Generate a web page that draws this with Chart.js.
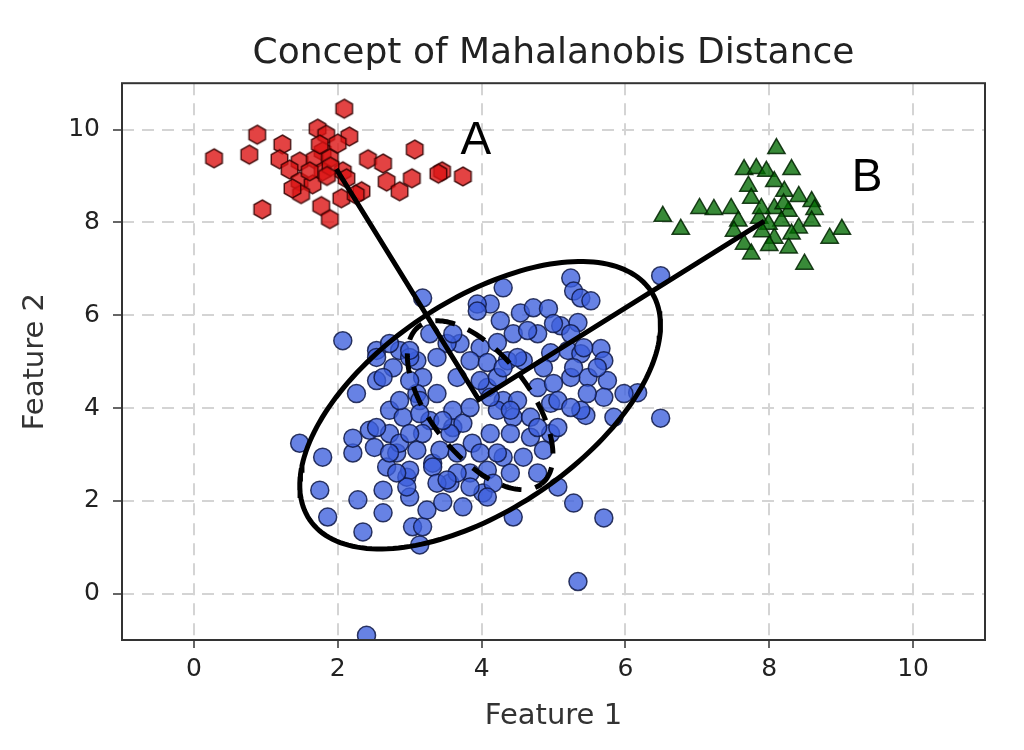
<!DOCTYPE html>
<html>
<head>
<meta charset="utf-8">
<script src="https://cdn.jsdelivr.net/npm/chart.js@4.4.1/dist/chart.umd.min.js"></script>
<style>
  html, body { margin: 0; padding: 0; background: #fff; }
  #wrap { position: relative; width: 1024px; height: 750px; }
</style>
</head>
<body>
<div id="wrap"><canvas id="mahal" width="1024" height="750"></canvas></div>
<script>
// Cluster around the mean (blue circles)
const bluePoints = [
  [6.49,6.85],[5.24,6.80],[5.28,6.52],[5.38,6.37],[5.52,6.31],[3.18,6.37],[2.07,5.45],[1.47,3.24],
  [6.49,3.78],[6.17,4.33],[5.98,4.31],[5.28,1.95],[5.70,1.63],[4.44,1.65],[2.35,1.33],[1.86,1.65],
  [1.75,2.23],[2.28,2.02],[2.63,1.74],[3.04,1.44],[3.18,1.44],[3.14,1.05],[1.79,2.94],[2.21,3.03],
  [2.26,4.31],[2.54,4.59],[2.54,5.24],[5.45,3.84],[5.06,2.30],[4.78,2.60],[5.84,3.80],[4.30,6.59],
  [5.10,5.77],[5.34,5.84],[5.66,5.28],[5.70,5.02],[4.12,6.24],[4.54,6.05],[4.72,6.16],[4.93,6.14],
  [4.78,5.60],[4.58,5.02],[5.20,5.24],[5.38,5.17],[5.48,4.66],[5.24,4.66],[4.96,4.10],[5.38,3.95],
  [4.44,5.60],[4.26,5.88],[3.94,6.24],[3.98,5.30],[4.36,5.02],[4.78,4.44],[4.30,4.16],[4.08,4.44],
  [2.86,5.24],[2.77,4.87],[3.10,5.02],[3.94,6.09],[3.70,5.39],[3.28,5.60],[3.84,5.02],[2.21,3.35],
  [2.51,3.15],[2.63,2.23],[2.96,2.51],[2.82,3.03],[3.10,3.09],[3.32,2.81],[2.72,3.45],[3.00,2.08],
  [3.24,1.80],[3.46,1.97],[3.74,1.87],[3.56,2.38],[3.84,2.60],[4.02,2.17],[2.72,3.95],[2.44,3.52],
  [3.28,3.73],[3.60,3.58],[3.87,3.24],[2.40,-0.90],[5.34,0.26],
  [4.64,5.67],[4.08,4.98],[3.66,4.66],[3.98,4.59],[4.22,4.66],[4.96,5.19],[5.42,5.30],[5.00,4.53],
  [4.50,4.16],[4.22,3.95],[4.44,3.80],[4.68,3.80],[5.06,4.16],[5.24,4.01],[2.63,4.66],[2.54,5.09],
  [3.18,4.66],[3.38,4.31],[3.10,4.31],[2.91,3.80],[2.54,3.58],[3.14,4.16],[3.60,3.95],[3.74,3.67],
  [3.56,3.45],[3.18,3.45],[2.86,3.24],[3.42,3.09],[4.12,3.45],[4.40,3.45],[4.68,3.37],[4.96,3.45],
  [3.98,3.03],[4.30,2.94],[4.58,2.94],[4.86,3.09],[2.68,2.73],[3.00,2.66],[3.32,2.73],[3.66,2.60],
  [4.08,2.66],[4.40,2.60],[2.96,2.30],[3.38,2.38],[3.84,2.30],[4.16,2.38],[3.52,5.39],[3.00,5.09],
  [5.24,5.60],[2.72,5.39],[3.00,5.24],[5.00,5.82],[5.75,4.59],[4.08,2.08],
  [4.22,5.41],[4.50,5.09],[5.28,4.87],[5.61,4.87],[5.70,4.23],[4.12,4.23],[3.84,4.01],[3.46,3.73],
  [3.00,3.45],[2.72,3.03],[3.66,3.03],[4.22,3.03],[5.06,3.58],[4.78,3.58],[4.40,3.95],[5.47,4.31],
  [4.86,4.87],[4.30,4.87],[3.38,5.09],[3.60,5.60],[3.00,4.59],[2.86,4.16],[3.14,3.88],[2.82,2.60],
  [3.52,2.45]
];

// Point group A (red hexagons)
const redPoints = [
  [2.09,10.45],[0.88,9.89],[1.72,10.02],[1.84,9.89],[2.16,9.85],[1.23,9.68],[0.28,9.38],[0.77,9.46],
  [1.79,9.53],[3.07,9.57],[1.19,9.36],[1.47,9.31],[1.68,9.36],[1.89,9.38],[2.42,9.36],[2.63,9.27],
  [1.79,9.10],[2.07,9.10],[1.33,9.14],[1.47,8.88],[1.65,8.82],[2.12,8.95],[2.33,8.67],[2.68,8.88],
  [3.03,8.95],[2.86,8.67],[3.45,9.10],[3.74,8.99],[1.49,8.61],[2.05,8.52],[0.95,8.28],[1.77,8.35],
  [1.89,8.07],[1.61,9.10],[1.37,8.73],[1.75,9.68],[1.90,9.20],[2.00,9.70],[1.85,9.00],[2.25,8.60],
  [3.40,9.05]
];

// Point group B (green triangles)
const greenPoints = [
  [8.10,9.59],[7.65,9.14],[7.82,9.16],[7.96,9.10],[8.31,9.14],[8.07,8.88],[7.71,8.78],[8.21,8.67],
  [7.75,8.52],[8.41,8.56],[8.59,8.45],[7.03,8.30],[7.23,8.28],[7.47,8.30],[8.07,8.30],[8.27,8.24],
  [8.63,8.28],[6.52,8.13],[6.77,7.85],[7.57,8.03],[7.86,8.09],[8.17,8.03],[8.41,7.88],[8.59,8.03],
  [9.01,7.85],[8.84,7.66],[7.51,7.81],[7.65,7.53],[8.07,7.66],[8.27,7.45],[7.75,7.32],[8.49,7.10],
  [7.99,7.96],[8.31,7.75],[7.89,8.30],[8.20,8.40],[8.00,7.50],[7.90,7.80]
];

// Distance lines: A -> mean -> B
const distLine = [[1.98, 9.15], [3.96, 4.18], [7.93, 8.03]];

// Ellipses: centre and two half-axis vectors (data units)
const ellipseCenter = [3.98, 4.06];
const outerAxisA = [2.37, 2.47];
const outerAxisB = [0.82, -1.87];
const innerAxisA = [0.85, -1.70];
const innerAxisB = [0.55, 0.65];

const xTicks = [0, 2, 4, 6, 8, 10];
const yTicks = [0, 2, 4, 6, 8, 10];

const noteText = ['A', 'B'];
const noteX = [3.92, 9.36];
const noteY = [9.48, 8.67];

function ellipsePath(c, a, b) {
  const pts = [];
  for (let i = 0; i <= 180; i++) {
    const t = (i / 180) * Math.PI * 2;
    pts.push({ x: c[0] + a[0] * Math.cos(t) + b[0] * Math.sin(t),
               y: c[1] + a[1] * Math.cos(t) + b[1] * Math.sin(t) });
  }
  return pts;
}

const toXY = arr => arr.map(p => ({ x: p[0], y: p[1] }));

// hexagon marker (matplotlib 'h')
function makeHexagon(r, fill, stroke) {
  const c = document.createElement('canvas');
  const s = Math.ceil(r * 2 + 4);
  c.width = s; c.height = s;
  const g = c.getContext('2d');
  g.beginPath();
  for (let i = 0; i < 6; i++) {
    const ang = -Math.PI / 2 + i * Math.PI / 3;
    const px = s / 2 + r * Math.cos(ang), py = s / 2 + r * Math.sin(ang);
    i ? g.lineTo(px, py) : g.moveTo(px, py);
  }
  g.closePath();
  g.fillStyle = fill; g.fill();
  g.lineWidth = 1.5; g.strokeStyle = stroke; g.stroke();
  return c;
}
const hexMarker = makeHexagon(9.5, 'rgba(220,20,20,0.8)', 'rgba(50,0,0,0.85)');

const framePlugin = {
  id: 'frame',
  afterDatasetsDraw(chart) {
    const { ctx, chartArea: a, scales: { x, y } } = chart;
    ctx.save();
    ctx.strokeStyle = '#333';
    ctx.lineWidth = 2;
    ctx.strokeRect(a.left, a.top, a.right - a.left, a.bottom - a.top);
    ctx.fillStyle = '#000';
    ctx.font = '46px "Liberation Sans", Arial, sans-serif';
    ctx.textAlign = 'center';
    ctx.textBaseline = 'alphabetic';
    noteText.forEach((t, i) => {
      ctx.fillText(t, x.getPixelForValue(noteX[i]), y.getPixelForValue(noteY[i]));
    });
    ctx.restore();
  }
};

const tickFont = { family: 'DejaVu Sans', size: 25 };

new Chart(document.getElementById('mahal'), {
  type: 'scatter',
  data: {
    datasets: [
      {
        data: toXY(distLine), showLine: true, borderColor: '#000', borderWidth: 5,
        pointRadius: 0, order: 0, clip: 0
      },
      {
        data: ellipsePath(ellipseCenter, outerAxisA, outerAxisB), showLine: true,
        borderColor: '#000', borderWidth: 5, pointRadius: 0, order: 0, clip: 0
      },
      {
        data: ellipsePath(ellipseCenter, innerAxisA, innerAxisB), showLine: true,
        borderColor: '#000', borderWidth: 5, borderDash: [20, 14], pointRadius: 0, order: 0, clip: 0
      },
      {
        data: toXY(bluePoints), pointStyle: 'circle', pointRadius: 9,
        backgroundColor: 'rgba(60,95,220,0.78)', borderColor: 'rgba(15,25,70,0.85)',
        borderWidth: 1.5, order: 3, clip: 0
      },
      {
        data: toXY(redPoints), pointStyle: hexMarker, order: 2, clip: 0
      },
      {
        data: toXY(greenPoints), pointStyle: 'triangle', pointRadius: 10,
        backgroundColor: 'rgba(0,105,0,0.78)', borderColor: 'rgba(0,35,0,0.85)',
        borderWidth: 1.5, order: 1, clip: 0
      }
    ]
  },
  options: {
    responsive: false,
    animation: false,
    layout: { padding: { left: 0, right: 39, top: 0, bottom: 0 } },
    plugins: {
      legend: { display: false },
      tooltip: { enabled: false },
      title: {
        display: true,
        text: 'Concept of Mahalanobis Distance',
        fullSize: false,
        color: '#222',
        font: { family: 'DejaVu Sans', size: 36, weight: 'normal' },
        padding: { top: 32, bottom: 8 }
      }
    },
    scales: {
      x: {
        min: -1, max: 11,
        afterBuildTicks: s => { s.ticks = xTicks.map(v => ({ value: v })); },
        afterFit: s => { s.height = 110; },
        ticks: { color: '#222', font: tickFont, padding: 6, maxRotation: 0 },
        grid: { color: '#d4d4d4', lineWidth: 2, tickColor: '#333', tickLength: 8,
                tickWidth: 1.5, tickBorderDash: [] },
        border: { display: false, dash: [12, 8] },
        title: { display: true, text: 'Feature 1', color: '#333',
                 font: { family: 'DejaVu Sans', size: 29 }, padding: { top: 0, bottom: 16 } }
      },
      y: {
        min: -1, max: 11,
        afterBuildTicks: s => { s.ticks = yTicks.map(v => ({ value: v })); },
        afterFit: s => { s.width = 122; },
        ticks: { color: '#222', font: tickFont, padding: 13 },
        grid: { color: '#d4d4d4', lineWidth: 2, tickColor: '#333', tickLength: 9,
                tickWidth: 1.5, tickBorderDash: [] },
        border: { display: false, dash: [12, 8] },
        title: { display: true, text: 'Feature 2', color: '#333',
                 font: { family: 'DejaVu Sans', size: 29 }, padding: { top: 18, bottom: 0 } }
      }
    }
  },
  plugins: [framePlugin]
});
</script>
</body>
</html>
